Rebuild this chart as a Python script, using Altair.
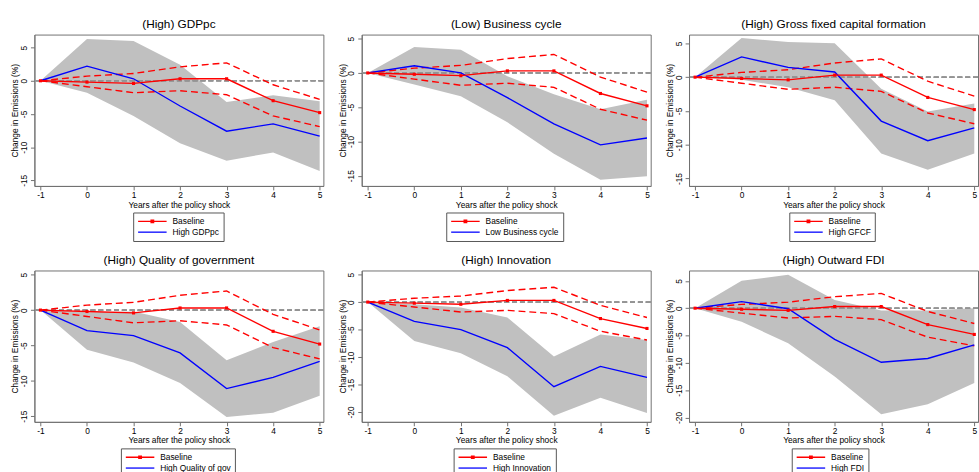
import altair as alt
import pandas as pd

# ---------------- data ----------------
years = [-1, 0, 1, 2, 3, 4, 5]

baseline = [0, -0.2, -0.4, 0.3, 0.3, -3.0, -4.8]
baseline_upper = [0, 0.7, 1.1, 2.1, 2.7, -0.6, -2.8]
baseline_lower = [0, -0.9, -1.8, -1.5, -2.1, -5.3, -6.9]

panel_titles = [
    "(High) GDPpc",
    "(Low) Business cycle",
    "(High) Gross fixed capital formation",
    "(High) Quality of government",
    "(High) Innovation",
    "(High) Outward FDI",
]
group_labels = [
    "High GDPpc",
    "Low Business cycle",
    "High GFCF",
    "High Quality of gov",
    "High Innovation",
    "High FDI",
]

gdp_est = [0, 2.2, 0.3, -3.8, -7.6, -6.5, -8.35]
gdp_upper = [0, 6.3, 6.0, 2.4, -3.2, -2.2, -3.1]
gdp_lower = [0, -1.8, -5.3, -9.4, -12.05, -10.8, -13.6]

bc_est = [0, 1.05, 0.0, -3.6, -7.45, -10.5, -9.5]
bc_upper = [0, 3.8, 3.4, -0.5, -3.1, -5.3, -3.9]
bc_lower = [0, -1.7, -3.4, -7.2, -11.8, -15.6, -15.1]

gfcf_est = [0, 3.0, 1.45, 0.77, -6.5, -9.4, -7.5]
gfcf_upper = [0, 5.8, 5.2, 5.0, -1.7, -5.1, -3.9]
gfcf_lower = [0, -0.4, -1.5, -3.4, -11.3, -13.7, -11.3]

qog_est = [0, -2.9, -3.6, -6.05, -11.1, -9.5, -7.25]
qog_upper = [0, -0.3, -0.2, -1.7, -7.1, -4.5, -2.3]
qog_lower = [0, -5.6, -7.4, -10.3, -15.1, -14.5, -12.1]

inn_est = [0, -3.5, -5.0, -8.3, -15.4, -11.7, -13.7]
inn_upper = [0, -0.4, -1.0, -2.8, -9.9, -5.9, -6.9]
inn_lower = [0, -7.1, -9.3, -13.5, -20.7, -17.4, -20.2]

fdi_est = [0, 1.2, -0.1, -5.7, -9.9, -9.2, -6.7]
fdi_upper = [0, 5.0, 6.1, 1.5, -0.4, -0.4, 0.0]
fdi_lower = [0, -2.5, -6.4, -12.5, -19.4, -17.6, -13.7]

group_est = [gdp_est, bc_est, gfcf_est, qog_est, inn_est, fdi_est]
group_upper = [gdp_upper, bc_upper, gfcf_upper, qog_upper, inn_upper, fdi_upper]
group_lower = [gdp_lower, bc_lower, gfcf_lower, qog_lower, inn_lower, fdi_lower]

y_domains = [
    [-15.85, 6.96],
    [-16.5, 5.6],
    [-16.1, 6.3],
    [-15.8, 5.6],
    [-21.8, 5.75],
    [-20.8, 6.9],
]
ticks_a = [-15, -10, -5, 0, 5]
ticks_b = [-20, -15, -10, -5, 0, 5]
y_ticks = [ticks_a, ticks_a, ticks_a, ticks_a, ticks_b, ticks_b]
x_domain = [-1.13, 5.08]

# ---------------- style ----------------
FONT = "Liberation Sans"
RED = "#ff0000"
BLUE = "#0000ff"
BAND = "#c0c0c0"
AXIS = "#707070"
PW, PH = 294, 154
LEGEND_W = [93, 122, 90, 118, 107, 85]   # approximate legend box widths (layout)

LINE_PATH = "M-1,0H6.25"
BASE_PATH = "M-1,0H6.25M2.3,-0.3H2.95V0.3H2.3Z"


def make_panel(i):
    name = group_labels[i]
    df = pd.DataFrame({
        "year": years,
        "b_hi": baseline_upper,
        "b_lo": baseline_lower,
        "base": baseline,
        "est": group_est[i],
        "hi": group_upper[i],
        "lo": group_lower[i],
    })
    legend_df = pd.DataFrame({"year": pd.Series([], dtype=float),
                              "value": pd.Series([], dtype=float),
                              "series": pd.Series([], dtype=str)})
    xs = alt.Scale(domain=x_domain, nice=False, zero=False)
    ys = alt.Scale(domain=y_domains[i], nice=False, zero=False)
    x_axis = alt.Axis(values=years, title="Years after the policy shock",
                      labelExpr="'' + datum.value", grid=False, labelOverlap=False)
    y_axis = alt.Axis(values=y_ticks[i], title="Change in Emissions (%)",
                      labelExpr="'' + datum.value", grid=False, labelOverlap=False,
                      labelAngle=270, labelAlign="center", labelBaseline="bottom")
    X = alt.X("year:Q", scale=xs, axis=x_axis)

    def Y(field):
        return alt.Y(field, type="quantitative", scale=ys, axis=y_axis)

    band = alt.Chart(df).mark_area(color=BAND, opacity=1).encode(
        x=X, y=Y("lo"), y2="hi:Q")
    zero = alt.Chart(df).mark_rule(color="#949494", strokeDash=[5, 3], strokeWidth=1).encode(
        y=alt.Y(datum=0, type="quantitative", scale=ys, axis=y_axis))
    d_hi = alt.Chart(df).mark_line(color=RED, strokeDash=[7, 4], strokeWidth=1.4).encode(
        x=X, y=Y("b_hi"))
    d_lo = alt.Chart(df).mark_line(color=RED, strokeDash=[7, 4], strokeWidth=1.4).encode(
        x=X, y=Y("b_lo"))
    blue = alt.Chart(df).mark_line(color=BLUE, strokeWidth=1.4).encode(x=X, y=Y("est"))
    red = alt.Chart(df).mark_line(color=RED, strokeWidth=1.4).encode(x=X, y=Y("base"))
    pts = alt.Chart(df).mark_point(shape="square", filled=True, size=10, color=RED, opacity=1).encode(
        x=X, y=Y("base"))

    legend = alt.Legend(
        title=None, orient="none", direction="vertical",
        legendX=PW / 2 - LEGEND_W[i] / 2, legendY=PH + 27,
        strokeColor="#555", padding=4,
        labelFont=FONT, labelFontSize=8.5, labelColor="#000",
        symbolSize=64, symbolStrokeWidth=1.3, labelOffset=26,
        rowPadding=1,
    )
    leg = alt.Chart(legend_df).mark_point(filled=False, size=64, strokeWidth=1.3, opacity=1).encode(
        x=X, y=Y("value"),
        color=alt.Color("series:N", scale=alt.Scale(domain=["Baseline", name], range=[RED, BLUE]),
                        legend=legend),
        shape=alt.Shape("series:N", scale=alt.Scale(domain=["Baseline", name], range=[BASE_PATH, LINE_PATH]),
                        legend=legend),
    )

    return alt.layer(band, zero, d_hi, d_lo, blue, red, pts, leg).properties(
        width=PW, height=PH,
        title=alt.TitleParams(panel_titles[i], fontSize=12, fontWeight="normal", font=FONT,
                              color="#000", offset=4, frame="group", anchor="middle"),
    )


def row(idx):
    return alt.hconcat(*[make_panel(i) for i in idx], spacing=13).resolve_scale(
        color="independent", shape="independent").resolve_legend(
        color="independent", shape="independent")


chart = alt.vconcat(row([0, 1, 2]), row([3, 4, 5]), spacing=11).resolve_scale(
    color="independent", shape="independent").resolve_legend(
    color="independent", shape="independent").properties(
    padding={"left": 10, "top": 13, "right": 0, "bottom": 0},
    background="white",
).configure_view(stroke=AXIS, strokeWidth=1).configure_axis(
    domainColor=AXIS, tickColor=AXIS, tickSize=4, labelFont=FONT, labelFontSize=8.5,
    labelColor="#000", titleFont=FONT, titleFontSize=8.5, titleFontWeight="normal",
    titleColor="#000", labelPadding=2, titlePadding=2, labelOverlap=False,
).configure_axisY(titlePadding=0).configure_axisX(labelPadding=1, titlePadding=1)

chart.save("out.html", embed_options={"renderer": "svg", "actions": False})
